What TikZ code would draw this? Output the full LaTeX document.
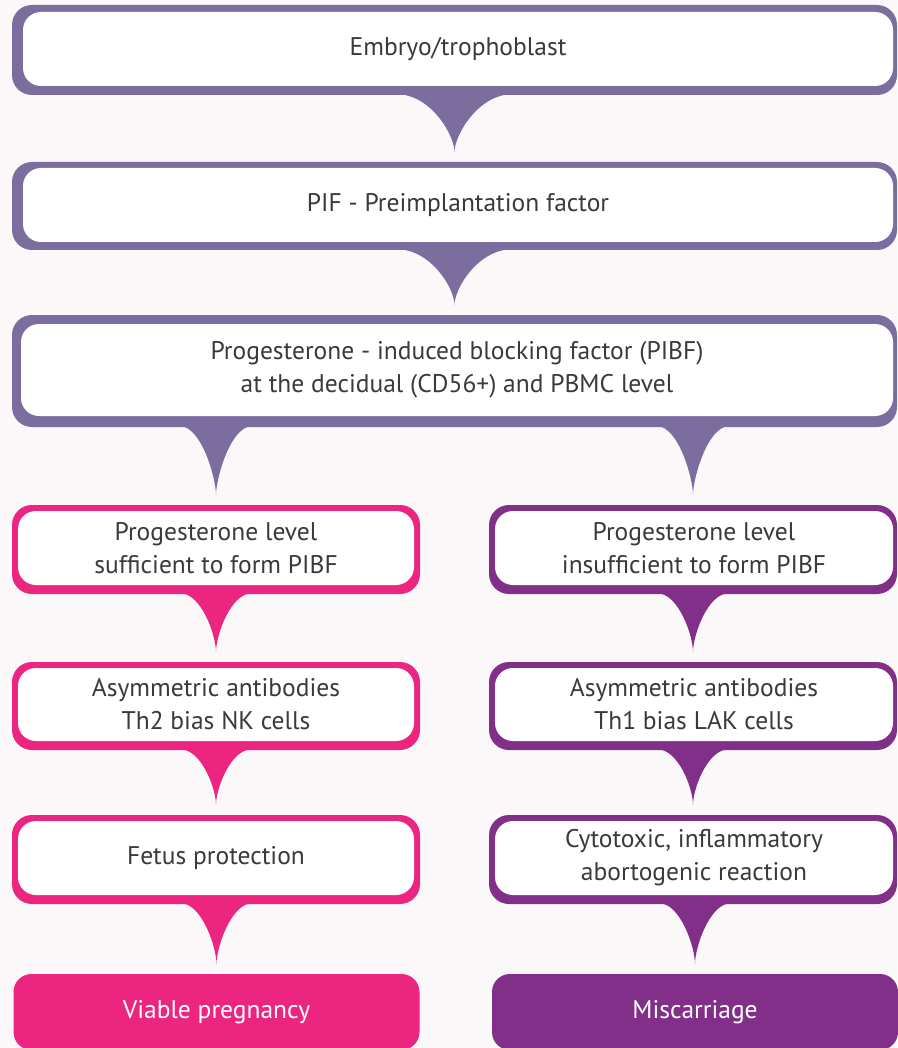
\documentclass[tikz,border=0pt]{standalone}
\usepackage{fontspec}
\setmainfont{PT Sans}
\usepackage{tikz}
\usetikzlibrary{calc, positioning}

\definecolor{lilac}{HTML}{7B6E9E}
\definecolor{rose}{HTML}{EC2581}
\definecolor{plum}{HTML}{822F8A}
\definecolor{ink}{HTML}{3A3A3A}
\definecolor{paper}{HTML}{FBF8FA}

% funnel from one frame down to the next box
\newcommand{\funnel}[4]{%
  \fill[#3] ($(#1.south -| #2.north)+(-#4,-1)$) .. controls +(0.6*#4,0) and +(0,-16) .. ($(#2.north)+(0,-10)$)
    .. controls +(0,-16) and +(-0.6*#4,0) .. ($(#1.south -| #2.north)+(#4,-1)$) -- cycle;}

\begin{document}
\begin{tikzpicture}[x=1pt, y=-1pt,
    frame/.style={fill=#1, rounded corners=20pt, inner sep=0pt},
    card/.style={fill=white, rounded corners=18pt, inner sep=0pt, align=center, text=ink, font={\fontsize{25.5pt}{33pt}\selectfont}},
    endbox/.style={fill=#1, rounded corners=18pt, inner sep=0pt, minimum width=406pt, minimum height=76pt, align=center, text=white, font={\fontsize{25.5pt}{33pt}\selectfont}},
    wide/.style={minimum width=885pt},
    half/.style={minimum width=408pt}
]
    % background
    \fill[paper] (0,0) rectangle (897,1048);
    \useasboundingbox (0,0) rectangle (897,1048);

    % Top chain
    \node[frame=lilac, wide, minimum height=90pt] (embryof) at (454.5,50) {};
    \node[card, minimum width=870pt, minimum height=74pt] (embryo) at (458,49) {Embryo/trophoblast};

    \node[frame=lilac, wide, minimum height=88pt] (piff) at (454.5,206) {};
    \node[card, minimum width=870pt, minimum height=74pt] (pif) at (458,205) {PIF - Preimplantation factor};

    \node[frame=lilac, wide, minimum height=112pt] (pibff) at (454.5,371) {};
    \node[card, minimum width=872pt, minimum height=92pt] (pibf) at (457,370) {Progesterone - induced blocking factor (PIBF)\\at the decidual (CD56+) and PBMC level};

    % Left branch
    \node[frame=rose, half, minimum height=89pt] (sufff) at (216,549.5) {};
    \node[card, minimum width=396pt, minimum height=74pt] (suff) at (216,548) {Progesterone level\\sufficient to form PIBF};

    \node[frame=rose, half, minimum height=88pt] (th2f) at (216,706) {};
    \node[card, minimum width=396pt, minimum height=73pt] (th2) at (216,704.5) {Asymmetric antibodies\\Th2 bias NK cells};

    \node[frame=rose, half, minimum height=89pt] (fetusf) at (216,859.5) {};
    \node[card, minimum width=396pt, minimum height=74pt] (fetus) at (216,858) {Fetus protection};

    \node[endbox=rose] (viable) at (216.5,1012) {Viable pregnancy};

    % Right branch
    \node[frame=plum, half, minimum height=89pt] (insufff) at (693,549.5) {};
    \node[card, minimum width=398pt, minimum height=74pt] (insuff) at (694,548) {Progesterone level\\insufficient to form PIBF};

    \node[frame=plum, half, minimum height=88pt] (th1f) at (693,706) {};
    \node[card, minimum width=398pt, minimum height=73pt] (th1) at (694,704.5) {Asymmetric antibodies\\Th1 bias LAK cells};

    \node[frame=plum, half, minimum height=89pt] (cytof) at (693,859.5) {};
    \node[card, minimum width=398pt, minimum height=74pt] (cyto) at (694,858) {Cytotoxic, inflammatory\\abortogenic reaction};

    \node[endbox=plum] (misc) at (695,1012) {Miscarriage};

    % Funnels
    \funnel{embryof}{piff}{lilac}{58}
    \funnel{piff}{pibff}{lilac}{58}
    \funnel{pibff}{sufff}{lilac}{36}
    \funnel{pibff}{insufff}{lilac}{36}
    \funnel{sufff}{th2f}{rose}{36}
    \funnel{th2f}{fetusf}{rose}{36}
    \funnel{fetusf}{viable}{rose}{36}
    \funnel{insufff}{th1f}{plum}{36}
    \funnel{th1f}{cytof}{plum}{36}
    \funnel{cytof}{misc}{plum}{36}
\end{tikzpicture}
\end{document}
